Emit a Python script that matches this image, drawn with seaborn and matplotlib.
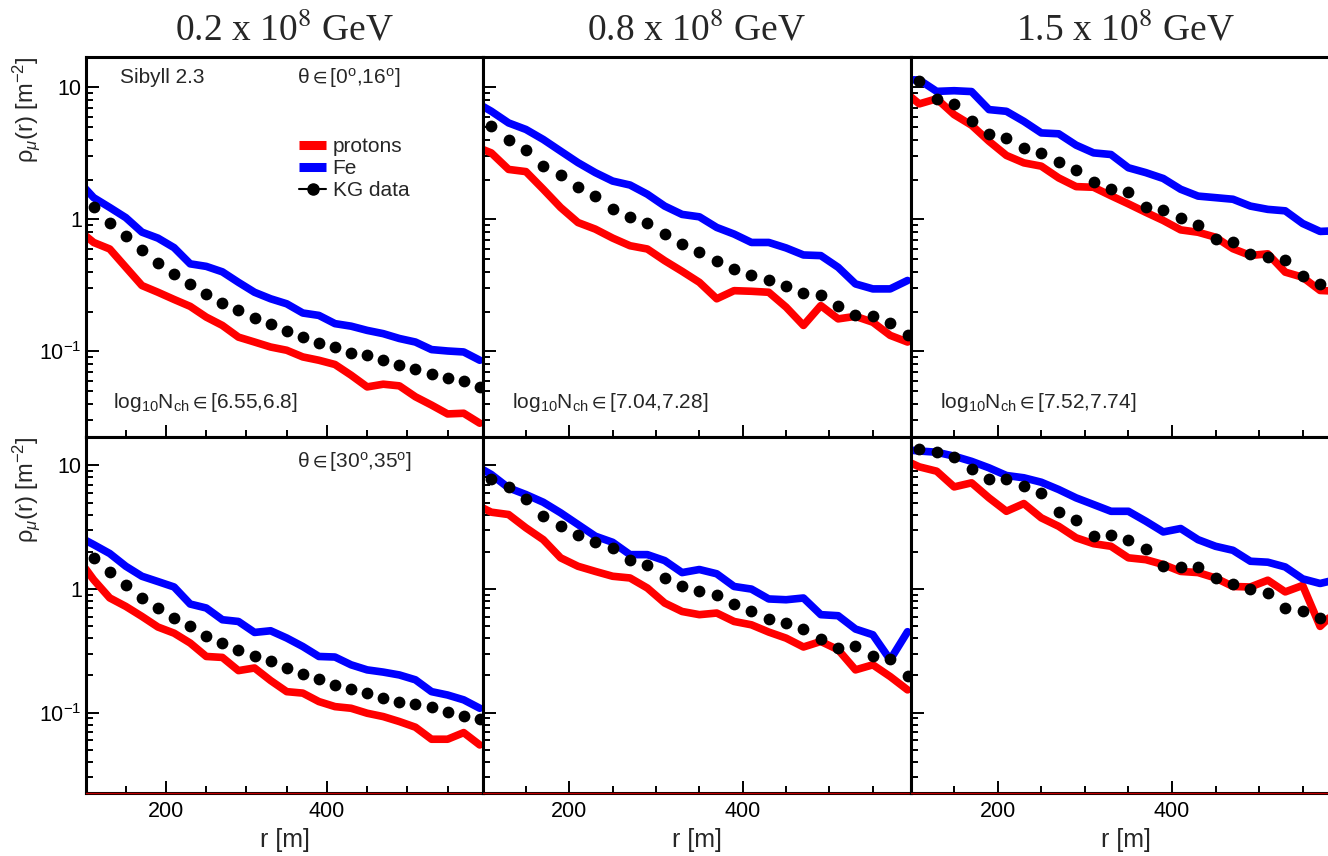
import matplotlib
matplotlib.use("Agg")
import matplotlib.pyplot as plt
import seaborn as sns
from matplotlib.lines import Line2D
from matplotlib.ticker import MultipleLocator, LogLocator, FixedLocator, FixedFormatter, NullFormatter

# ---------------- data ----------------
r_data = list(range(110, 591, 20))          # KG data radii
r_mc = [100] + r_data                        # simulation curves (start at left frame)

energy_titles = ["0.2 x 10$^{8}$ GeV", "0.8 x 10$^{8}$ GeV", "1.5 x 10$^{8}$ GeV"]
nch_labels = ["log$_{10}$N$_{\\mathrm{ch}}\\in$[6.55,6.8]",
              "log$_{10}$N$_{\\mathrm{ch}}\\in$[7.04,7.28]",
              "log$_{10}$N$_{\\mathrm{ch}}\\in$[7.52,7.74]"]
theta_labels = ["θ$\\in$[0$^{\\mathrm{o}}$,16$^{\\mathrm{o}}$]", "θ$\\in$[30$^{\\mathrm{o}}$,35$^{\\mathrm{o}}$]"]
model_label = "Sibyll 2.3"
series_labels = ["protons", "Fe", "KG data"]
y_tick_values = [0.1, 1, 10]
y_tick_labels = ["10$^{-1}$", "1", "10"]
x_tick_values = [200, 400]

# top row (theta 0-16)
kg_r1c1 = [1.23, 0.94, 0.75, 0.59, 0.47, 0.385, 0.324, 0.272, 0.233, 0.204, 0.178, 0.162, 0.142,
           0.128, 0.116, 0.107, 0.097, 0.093, 0.0855, 0.079, 0.074, 0.067, 0.063, 0.0598, 0.0537]
fe_r1c1 = [1.70, 1.46, 1.23, 1.03, 0.80, 0.72, 0.61, 0.46, 0.44, 0.40, 0.333, 0.28, 0.25, 0.229,
           0.195, 0.187, 0.162, 0.155, 0.144, 0.136, 0.125, 0.1175, 0.103, 0.1005, 0.0988, 0.0855]
p_r1c1 = [0.75, 0.668, 0.596, 0.433, 0.315, 0.28, 0.247, 0.219, 0.1815, 0.157, 0.128, 0.1175, 0.1077,
          0.1018, 0.0906, 0.0855, 0.0794, 0.0659, 0.0537, 0.0563, 0.0547, 0.0452, 0.0391, 0.0335, 0.0339, 0.0285]

kg_r1c2 = [5.14, 3.98, 3.33, 2.53, 2.16, 1.76, 1.49, 1.19, 1.05, 0.93, 0.773, 0.65, 0.561, 0.481,
           0.421, 0.379, 0.348, 0.315, 0.277, 0.269, 0.222, 0.189, 0.184, 0.164, 0.132]
fe_r1c2 = [7.2, 6.6, 5.38, 4.8, 4.03, 3.29, 2.69, 2.26, 1.95, 1.82, 1.55, 1.26, 1.09, 1.045, 0.868,
           0.773, 0.668, 0.668, 0.607, 0.537, 0.531, 0.433, 0.324, 0.297, 0.297, 0.344]
p_r1c2 = [3.39, 3.19, 2.39, 2.3, 1.69, 1.23, 0.946, 0.843, 0.721, 0.631, 0.596, 0.486, 0.404, 0.333,
          0.25, 0.288, 0.285, 0.28, 0.216, 0.157, 0.222, 0.176, 0.184, 0.166, 0.132, 0.1175]

kg_r1c3 = [11.2, 8.22, 7.48, 5.61, 4.45, 4.14, 3.48, 3.16, 2.73, 2.35, 1.93, 1.71, 1.61, 1.25, 1.17,
           1.03, 0.909, 0.708, 0.668, 0.546, 0.515, 0.494, 0.375, 0.321, 0.29]
fe_r1c3 = [11.4, 11.4, 9.33, 9.44, 9.3, 6.79, 6.59, 5.53, 4.52, 4.45, 3.65, 3.19, 3.1, 2.46, 2.26,
           2.04, 1.69, 1.5, 1.46, 1.42, 1.26, 1.19, 1.16, 0.93, 0.81, 0.82]
p_r1c3 = [8.5, 7.5, 8.2, 6.22, 5.17, 3.91, 3.05, 2.68, 2.53, 2.06, 1.77, 1.75, 1.51, 1.31, 1.13, 0.98,
          0.832, 0.798, 0.732, 0.599, 0.532, 0.548, 0.398, 0.364, 0.289, 0.285]

# bottom row (theta 30-35)
kg_r2c1 = [1.79, 1.38, 1.07, 0.848, 0.703, 0.583, 0.499, 0.419, 0.366, 0.319, 0.285, 0.263, 0.232,
           0.205, 0.187, 0.168, 0.156, 0.144, 0.1325, 0.123, 0.118, 0.1107, 0.102, 0.0941, 0.0885]
fe_r2c1 = [2.48, 2.29, 1.94, 1.53, 1.27, 1.15, 1.04, 0.757, 0.703, 0.565, 0.547, 0.446, 0.46, 0.402,
           0.343, 0.285, 0.282, 0.244, 0.222, 0.213, 0.202, 0.1845, 0.148, 0.139, 0.127, 0.1086]
p_r2c1 = [1.46, 1.19, 0.848, 0.724, 0.601, 0.493, 0.44, 0.366, 0.285, 0.28, 0.219, 0.23, 0.182, 0.148,
          0.144, 0.123, 0.112, 0.1086, 0.099, 0.093, 0.0848, 0.0763, 0.061, 0.061, 0.069, 0.0548]

kg_r2c2 = [7.8, 6.71, 5.37, 3.93, 3.26, 2.76, 2.41, 2.15, 1.73, 1.58, 1.23, 1.05, 0.958, 0.901, 0.757,
           0.671, 0.573, 0.531, 0.475, 0.394, 0.333, 0.348, 0.288, 0.271, 0.199]
fe_r2c2 = [9.28, 8.46, 6.59, 5.82, 5.04, 4.14, 3.33, 2.68, 2.39, 1.9, 1.9, 1.7, 1.36, 1.44, 1.33, 1.05,
           1.0, 0.832, 0.82, 0.847, 0.621, 0.609, 0.475, 0.427, 0.268, 0.452]
p_r2c2 = [4.54, 4.19, 4.01, 3.13, 2.51, 1.79, 1.53, 1.39, 1.27, 1.23, 1.02, 0.771, 0.659, 0.621, 0.64,
          0.547, 0.514, 0.449, 0.401, 0.34, 0.377, 0.323, 0.222, 0.244, 0.196, 0.153]

kg_r2c3 = [13.6, 12.8, 11.7, 9.28, 7.8, 7.8, 6.79, 6.01, 4.24, 3.6, 2.67, 2.76, 2.51, 2.12, 1.55, 1.5,
           1.5, 1.23, 1.1, 1.0, 0.929, 0.703, 0.671, 0.583, 0.55]
fe_r2c3 = [13.3, 13.1, 12.8, 11.9, 10.8, 9.57, 8.3, 7.95, 7.32, 6.39, 5.47, 4.83, 4.26, 4.26, 3.54, 2.9,
           3.09, 2.51, 2.22, 2.06, 1.68, 1.65, 1.51, 1.21, 1.11, 1.2]
p_r2c3 = [10.5, 9.75, 8.99, 6.71, 7.24, 5.47, 4.26, 4.92, 3.77, 3.22, 2.6, 2.33, 2.22, 1.79, 1.73, 1.58,
          1.39, 1.36, 1.23, 1.05, 1.04, 1.18, 0.949, 1.07, 0.499, 0.68]

panels = [
    [(kg_r1c1, fe_r1c1, p_r1c1), (kg_r1c2, fe_r1c2, p_r1c2), (kg_r1c3, fe_r1c3, p_r1c3)],
    [(kg_r2c1, fe_r2c1, p_r2c1), (kg_r2c2, fe_r2c2, p_r2c2), (kg_r2c3, fe_r2c3, p_r2c3)],
]

# ---------------- style ----------------
sns.set_theme(style="ticks")
plt.rcParams['font.family'] = ['Liberation Sans', 'DejaVu Sans']
plt.rcParams['mathtext.fontset'] = 'custom'
plt.rcParams['mathtext.rm'] = 'Liberation Sans'
plt.rcParams['mathtext.it'] = 'Liberation Sans:italic'
plt.rcParams['mathtext.bf'] = 'Liberation Sans:bold'
plt.rcParams['mathtext.fallback'] = 'stixsans'

RED = "#ff0000"
BLUE = "#0000ff"
W, H = 1328, 856
fig = plt.figure(figsize=(W / 100, H / 100), dpi=100)
fig.patch.set_facecolor("white")

col_left = [86, 483, 911]
col_width = [397, 428, 430]
row_top = [57, 437]
row_bot = [437, 793]
XLIM = (100.5, 594)
YLIM = (0.0224, 17)

for i in range(2):
    for j in range(3):
        l = col_left[j] / W
        b = 1 - row_bot[i] / H
        w = col_width[j] / W
        h = (row_bot[i] - row_top[i]) / H
        ax = fig.add_axes([l, b, w, h])
        kg, fe, pr = panels[i][j]
        sns.lineplot(x=r_mc, y=pr, ax=ax, color=RED, lw=5.5, estimator=None, sort=False, zorder=2)
        sns.lineplot(x=r_mc, y=fe, ax=ax, color=BLUE, lw=5.5, estimator=None, sort=False, zorder=2)
        sns.scatterplot(x=r_data, y=kg, ax=ax, color="black", s=72, linewidth=0, zorder=4)
        ax.set_yscale("log")
        ax.set_xlim(*XLIM)
        ax.set_ylim(*YLIM)
        ax.axhline(YLIM[0], color="#c00000", lw=1.0, zorder=6, clip_on=False)

        ax.xaxis.set_major_locator(FixedLocator(x_tick_values))
        ax.xaxis.set_minor_locator(MultipleLocator(50))
        ax.yaxis.set_major_locator(FixedLocator(y_tick_values))
        ax.yaxis.set_major_formatter(FixedFormatter(y_tick_labels))
        ax.yaxis.set_minor_locator(LogLocator(base=10, subs=range(2, 10)))
        ax.yaxis.set_minor_formatter(NullFormatter())
        ax.tick_params(which="both", direction="in", top=False, right=False,
                       width=1.4, color="black", labelsize=15.5, labelcolor="black")
        ax.tick_params(which="major", length=9)
        ax.tick_params(which="minor", length=5)
        ax.tick_params(axis="x", pad=6)
        ax.tick_params(axis="y", pad=3)
        for s in ax.spines.values():
            s.set_linewidth(2.2)
            s.set_color("black")
            s.set_visible(True)
        ax.set_facecolor("white")

        if j > 0:
            ax.tick_params(labelleft=False)
            ax.set_ylabel("")
        else:
            ax.set_ylabel("ρ$_{\\mu}$(r) [m$^{-2}$]", fontsize=17, loc="top")
            ax.yaxis.set_label_coords(-0.111, 1.0)
        if i == 0:
            ax.tick_params(labelbottom=False)
            ax.set_xlabel("")
            ax.set_title(energy_titles[j], fontsize=27, family="Liberation Serif",
                         math_fontfamily="stix", pad=12)
            ax.text(0.067, 0.077, nch_labels[j], transform=ax.transAxes, fontsize=15,
                    ha="left", va="baseline")
        else:
            ax.set_xlabel("r [m]", fontsize=18)
            ax.xaxis.set_label_coords(0.5, -0.098)

        if i == 0 and j == 0:
            ax.text(0.0856, 0.945, model_label, transform=ax.transAxes, fontsize=15,
                    ha="left", va="center")
            ax.text(0.531, 0.945, theta_labels[0], transform=ax.transAxes, fontsize=15,
                    ha="left", va="center")
            handles = [Line2D([0], [0], color=RED, lw=6.5, solid_capstyle="butt"),
                       Line2D([0], [0], color=BLUE, lw=6.5, solid_capstyle="butt"),
                       Line2D([0], [0], color="black", lw=1.5, marker="o", ms=8)]
            ax.legend(handles, series_labels, loc="upper left", bbox_to_anchor=(0.537, 0.79),
                      frameon=False, fontsize=15, handlelength=1.3, handletextpad=0.3,
                      labelspacing=0.15, borderpad=0, borderaxespad=0)
        if i == 1 and j == 0:
            ax.text(0.531, 0.93, theta_labels[1], transform=ax.transAxes, fontsize=15,
                    ha="left", va="center")

fig.savefig("out.png", dpi=100)
